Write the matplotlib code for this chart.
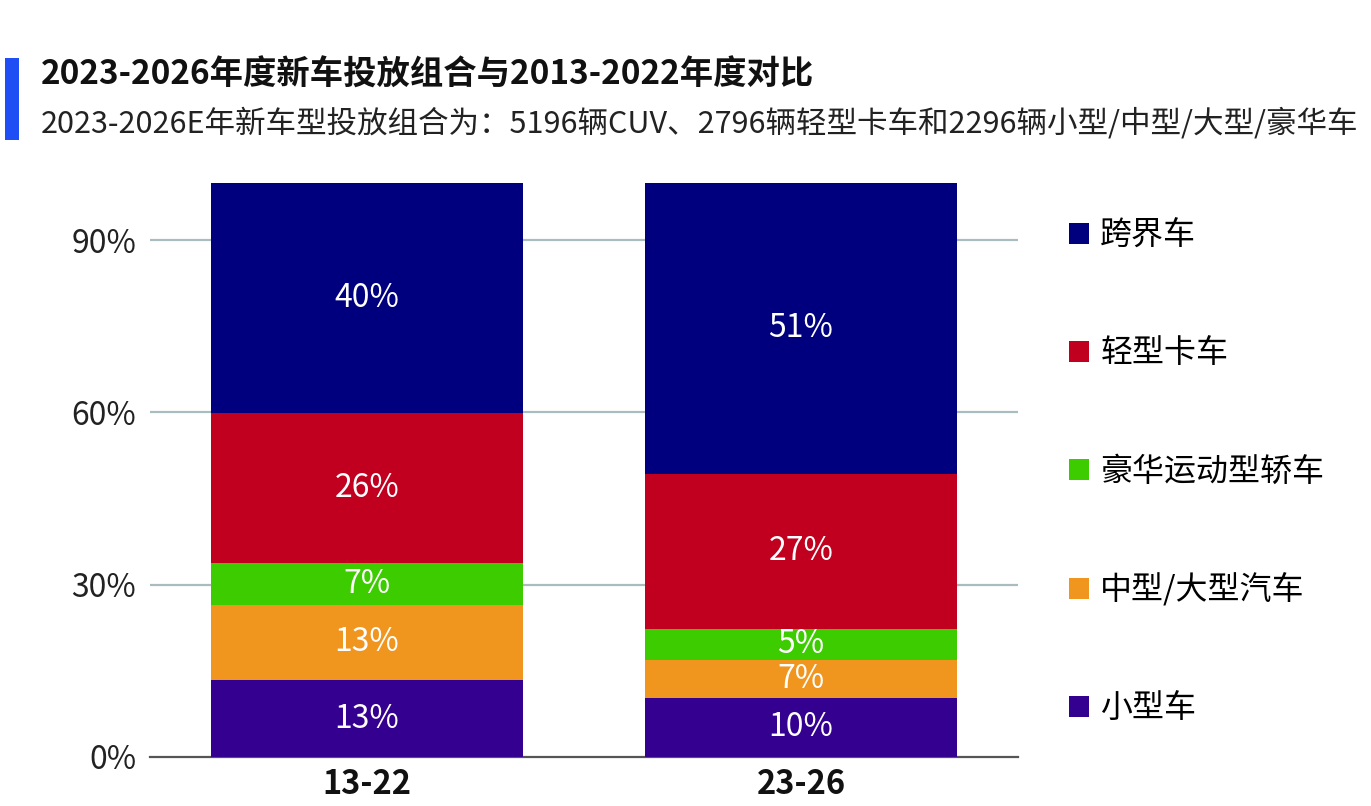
import matplotlib
matplotlib.use('Agg')
import matplotlib.pyplot as plt
from matplotlib.patches import Rectangle
import numpy as np

plt.rcParams['font.family'] = ['Noto Sans CJK SC', 'DejaVu Sans']

# Data (percent shares)
periods = ['13-22', '23-26']
segments = ['小型车', '中型/大型汽车', '豪华运动型轿车', '轻型卡车', '跨界车']
small_car = [13.4, 10.3]
mid_large = [13.1, 6.6]
luxury_sport = [7.3, 5.4]
light_truck = [26.1, 27.0]
crossover = [40.1, 50.7]
series = [small_car, mid_large, luxury_sport, light_truck, crossover]
colors = ['#33008f', '#f0951e', '#3ccc00', '#c0001e', '#00007f']
yticks = [0, 30, 60, 90]

title = '2023-2026年度新车投放组合与2013-2022年度对比'
subtitle = '2023-2026E年新车型投放组合为：5196辆CUV、2796辆轻型卡车和2296辆小型/中型/大型/豪华车'

fig = plt.figure(figsize=(13.71, 8.06), dpi=100)
ax = fig.add_axes([0.1094, 0.0608, 0.6331, 0.7126])

x = np.arange(len(periods))
bottom = np.zeros(len(periods))
handles = []
for name, vals, col in zip(segments, series, colors):
    vals = np.array(vals)
    bars = ax.bar(x, vals, width=0.717, bottom=bottom, color=col, label=name, zorder=3)
    handles.append(bars)
    for xi, b, v in zip(x, bottom, vals):
        ax.text(xi, b + v / 2, f'{v:.0f}%', ha='center', va='center',
                color='white', fontsize=23, zorder=4)
    bottom += vals

ax.set_xlim(-0.5, 1.5)
ax.set_ylim(0, 100)
ax.set_yticks(yticks)
ax.set_yticklabels([f'{t}%' for t in yticks], fontsize=23, color='#222222')
ax.set_xticks(x)
ax.set_xticklabels(periods, fontsize=23.5, fontweight='bold', color='#111111')
ax.tick_params(axis='both', length=0)
ax.tick_params(axis='y', pad=10)
ax.tick_params(axis='x', pad=8)
for t in yticks[1:]:
    ax.axhline(t, color='#a9bcc0', lw=1.6, zorder=1)
for s in ['top', 'right', 'left']:
    ax.spines[s].set_visible(False)
ax.spines['bottom'].set_color('#555555')
ax.spines['bottom'].set_linewidth(1.6)

leg = ax.legend(handles=handles[::-1], labels=segments[::-1], loc='upper left',
                bbox_to_anchor=(1.044, 0.958), frameon=False, fontsize=23,
                handlelength=0.63, handleheight=0.63, handletextpad=0.35,
                labelspacing=2.69, borderaxespad=0)

# Header
fig.add_artist(Rectangle((0.004, 0.826), 0.0095, 0.102, transform=fig.transFigure,
                         color='#1f4ef5', lw=0))
fig.text(0.030, 0.907, title, fontsize=24, fontweight='bold', va='center', color='#111111')
fig.text(0.030, 0.847, subtitle, fontsize=22, va='center', color='#222222')

fig.savefig('out.png', dpi=100)
